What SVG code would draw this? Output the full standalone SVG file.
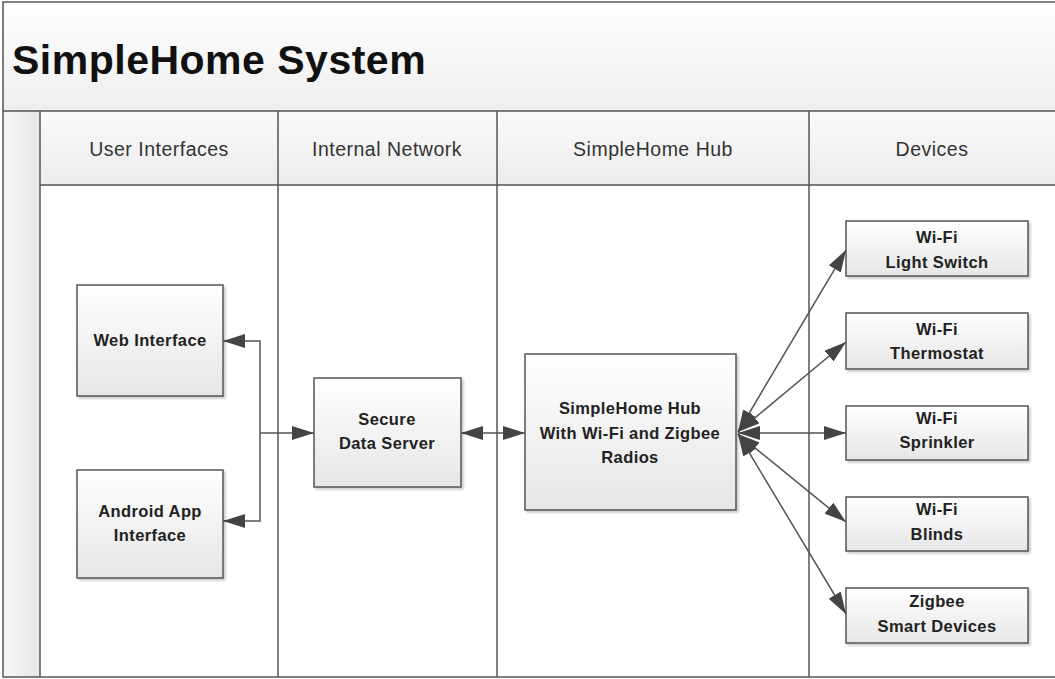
<svg xmlns="http://www.w3.org/2000/svg" width="1055" height="679" viewBox="0 0 1055 679">
<style>
.frame{fill:none;stroke:#555;stroke-width:1.5}
.lane{stroke:#555;stroke-width:1.5}
.box{fill:url(#boxg);stroke:#555;stroke-width:1.5}
.lbl{font-family:"Liberation Sans",Arial,sans-serif;font-weight:bold;font-size:16.5px;letter-spacing:0.4px;fill:#222;text-anchor:middle}
.hdr{font-family:"Liberation Sans",Arial,sans-serif;font-size:19.5px;letter-spacing:0.5px;fill:#333;text-anchor:middle}
.title{font-family:"Liberation Sans",Arial,sans-serif;font-weight:bold;font-size:41px;letter-spacing:0.5px;fill:#111}
.con{fill:none;stroke:#555;stroke-width:1.5}
</style>
<defs>
<linearGradient id="boxg" x1="0" y1="0" x2="0" y2="1"><stop offset="0" stop-color="#ffffff"/><stop offset="1" stop-color="#e6e6e6"/></linearGradient>
<linearGradient id="titleg" x1="0" y1="0" x2="0" y2="1"><stop offset="0" stop-color="#ffffff"/><stop offset="1" stop-color="#eeeeee"/></linearGradient>
<linearGradient id="hdrg" x1="0" y1="0" x2="0" y2="1"><stop offset="0" stop-color="#fafafa"/><stop offset="1" stop-color="#ececec"/></linearGradient>
<linearGradient id="stripg" x1="0" y1="0" x2="1" y2="0"><stop offset="0" stop-color="#f6f6f6"/><stop offset="1" stop-color="#e8e8e8"/></linearGradient>
<marker id="ahb" viewBox="0 0 10 10" refX="10" refY="5" markerWidth="22" markerHeight="14" markerUnits="userSpaceOnUse" orient="auto-start-reverse" preserveAspectRatio="none"><path d="M0,0 L10,5 L0,10 z" fill="#444"/></marker>
<filter id="sh" x="-10%" y="-10%" width="130%" height="130%"><feDropShadow dx="2" dy="2" stdDeviation="1" flood-color="#000" flood-opacity="0.2"/></filter>
</defs>
<rect x="0" y="0" width="1055" height="679" fill="#fff"/>
<g id="pool">
<rect x="3" y="2" width="1060" height="109" fill="url(#titleg)"/>
<rect x="3" y="111" width="37" height="566" fill="url(#stripg)"/>
<rect x="40" y="111" width="1020" height="74" fill="url(#hdrg)"/>
<rect x="3" y="2" width="1060" height="675" class="frame"/>
<line x1="3" y1="111" x2="1055" y2="111" class="lane"/>
<line x1="40" y1="185" x2="1055" y2="185" class="lane"/>
<line x1="40" y1="111" x2="40" y2="677" class="lane"/>
<line x1="278" y1="111" x2="278" y2="677" class="lane"/>
<line x1="497" y1="111" x2="497" y2="677" class="lane"/>
<line x1="809" y1="111" x2="809" y2="677" class="lane"/>
<text x="12" y="74" class="title">SimpleHome System</text>
<text x="159" y="156" class="hdr">User Interfaces</text>
<text x="387" y="156" class="hdr">Internal Network</text>
<text x="653" y="156" class="hdr">SimpleHome Hub</text>
<text x="932" y="156" class="hdr">Devices</text>
</g>
<g id="connectors">
<path d="M260,433 L260,341 L223,341" class="con" marker-end="url(#ahb)"/>
<path d="M260,433 L260,521 L223,521" class="con" marker-end="url(#ahb)"/>
<path d="M260,433 L314,433" class="con" marker-end="url(#ahb)"/>
<path d="M461,433 L525,433" class="con" marker-start="url(#ahb)" marker-end="url(#ahb)"/>
<path d="M738,432 L846,250" class="con" marker-start="url(#ahb)" marker-end="url(#ahb)"/>
<path d="M738,432 L846,342" class="con" marker-start="url(#ahb)" marker-end="url(#ahb)"/>
<path d="M738,433 L846,433" class="con" marker-start="url(#ahb)" marker-end="url(#ahb)"/>
<path d="M738,434 L846,522" class="con" marker-start="url(#ahb)" marker-end="url(#ahb)"/>
<path d="M738,434 L846,614" class="con" marker-start="url(#ahb)" marker-end="url(#ahb)"/>
</g>
<g id="web"><rect x="77" y="285" width="146" height="111" class="box" filter="url(#sh)"/><text x="150" y="346" class="lbl">Web Interface</text></g>
<g id="android"><rect x="77" y="470" width="146" height="108" class="box" filter="url(#sh)"/><text x="150" y="517" class="lbl">Android App</text><text x="150" y="541" class="lbl">Interface</text></g>
<g id="server"><rect x="314" y="378" width="147" height="109" class="box" filter="url(#sh)"/><text x="387" y="425" class="lbl">Secure</text><text x="387" y="449" class="lbl">Data Server</text></g>
<g id="hub"><rect x="525" y="354" width="211" height="156" class="box" filter="url(#sh)"/><text x="630" y="414" class="lbl">SimpleHome Hub</text><text x="630" y="438.5" class="lbl">With Wi-Fi and Zigbee</text><text x="630" y="463" class="lbl">Radios</text></g>
<g id="light"><rect x="846" y="221" width="182" height="55" class="box" filter="url(#sh)"/><text x="937" y="243" class="lbl">Wi-Fi</text><text x="937" y="268" class="lbl">Light Switch</text></g>
<g id="thermo"><rect x="846" y="313" width="182" height="56" class="box" filter="url(#sh)"/><text x="937" y="335" class="lbl">Wi-Fi</text><text x="937" y="359" class="lbl">Thermostat</text></g>
<g id="sprinkler"><rect x="846" y="406" width="182" height="54" class="box" filter="url(#sh)"/><text x="937" y="424" class="lbl">Wi-Fi</text><text x="937" y="448" class="lbl">Sprinkler</text></g>
<g id="blinds"><rect x="846" y="497" width="182" height="54" class="box" filter="url(#sh)"/><text x="937" y="515" class="lbl">Wi-Fi</text><text x="937" y="540" class="lbl">Blinds</text></g>
<g id="zigbee"><rect x="846" y="588" width="182" height="55" class="box" filter="url(#sh)"/><text x="937" y="607" class="lbl">Zigbee</text><text x="937" y="632" class="lbl">Smart Devices</text></g>
</svg>
